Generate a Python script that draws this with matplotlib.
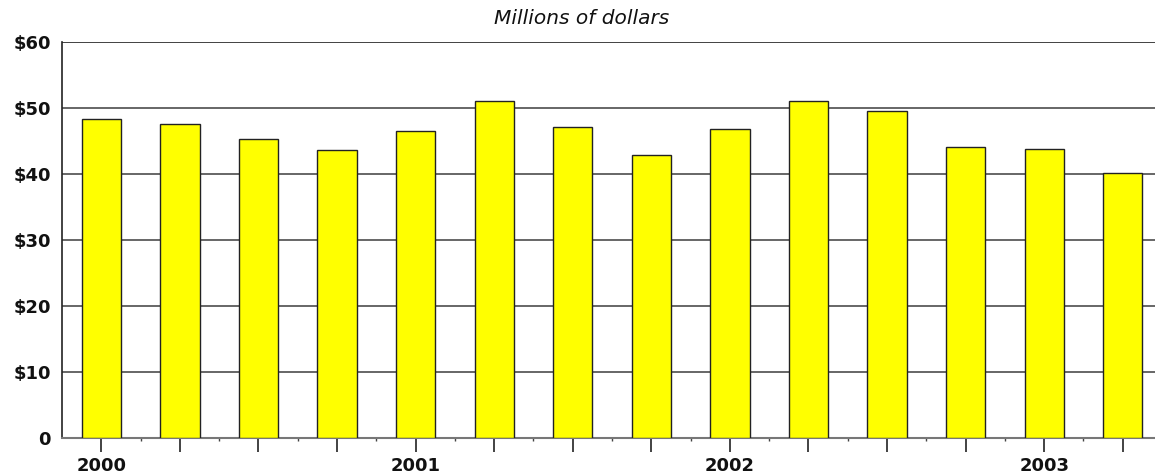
import numpy as np
import matplotlib
matplotlib.use("Agg")
import matplotlib.pyplot as plt
from matplotlib.ticker import FixedLocator

# quarterly values, 2000 Q1 .. 2003 Q2 (millions of dollars)
quarters = ["2000 Q1", "2000 Q2", "2000 Q3", "2000 Q4",
            "2001 Q1", "2001 Q2", "2001 Q3", "2001 Q4",
            "2002 Q1", "2002 Q2", "2002 Q3", "2002 Q4",
            "2003 Q1", "2003 Q2"]
values = [48.3, 47.5, 45.3, 43.6, 46.5, 51.0, 47.1, 42.9,
          46.8, 51.1, 49.5, 44.1, 43.8, 40.2]
year_labels = ["2000", "2001", "2002", "2003"]
y_ticks = [0, 10, 20, 30, 40, 50, 60]
y_labels = ["0", "$10", "$20", "$30", "$40", "$50", "$60"]

plt.rcParams["font.family"] = ["DejaVu Sans"]

fig = plt.figure(figsize=(11.55, 4.76), dpi=100)
ax = fig.add_axes([0.0537, 0.0798, 0.9463, 0.832])

x = np.arange(len(values))
ax.bar(x, values, width=0.5, color="#ffff00", edgecolor="#222222",
       linewidth=1.0, zorder=3)

ax.set_ylim(0, 60)
ax.set_xlim(-0.5, 13.41)
ax.set_yticks(y_ticks)
ax.set_yticklabels(y_labels, fontsize=13, fontweight="bold", color="#111111")
for yv in y_ticks[1:]:
    ax.axhline(yv, color="#5a5a5a" if yv < 60 else "#333333",
               linewidth=1.3, zorder=1)

ax.set_xticks(x)
ax.set_xticklabels(["" for _ in x])
ax.xaxis.set_minor_locator(FixedLocator(x[:-1] + 0.5))
ax.tick_params(axis="x", which="major", length=10, width=1.2,
               color="#222222", direction="out")
ax.tick_params(axis="x", which="minor", length=2, width=1,
               color="#444444", direction="out")
ax.tick_params(axis="y", length=0, pad=8)

# year labels under the first quarter of each year
for i, yl in enumerate(year_labels):
    ax.annotate(yl, xy=(i * 4, 0), xycoords=("data", "figure fraction"),
                xytext=(0, 1), textcoords="offset pixels",
                ha="center", va="bottom", fontsize=13, fontweight="bold",
                color="#111111")

ax.spines["right"].set_visible(False)
ax.spines["top"].set_visible(False)
ax.spines["left"].set_color("#222222")
ax.spines["left"].set_linewidth(1.2)
ax.spines["bottom"].set_color("#777777")
ax.spines["bottom"].set_linewidth(1.5)

fig.text(0.504, 0.962, "Millions of dollars", ha="center", va="center",
         fontsize=14.5, fontstyle="italic", color="#111111")

fig.savefig("out.png", dpi=100)
